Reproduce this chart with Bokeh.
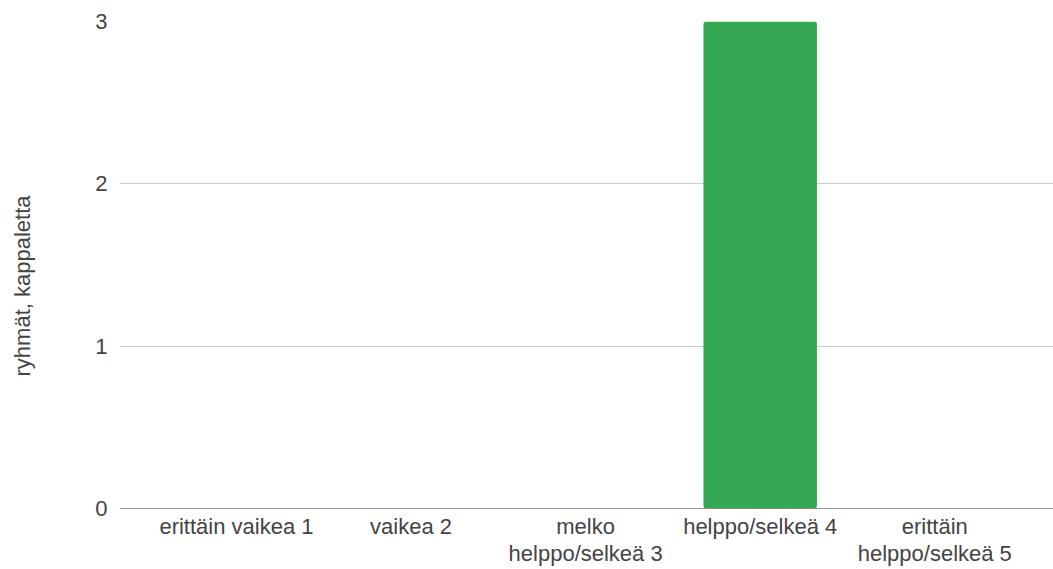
from math import pi
from bokeh.plotting import figure
from bokeh.layouts import row
from bokeh.models import ColumnDataSource, FixedTicker, Range1d, Span
from bokeh.core.properties import value
from bokeh.embed import file_html
from bokeh.resources import INLINE

categories = ["erittäin vaikea 1", "vaikea 2", "melko\nhelppo/selkeä 3",
              "helppo/selkeä 4", "erittäin\nhelppo/selkeä 5"]
values = [0, 0, 0, 3, 0]
y_ticks = [0, 1, 2, 3]
y_label = "ryhmät, kappaletta"

positions = list(range(1, len(categories) + 1))
src = ColumnDataSource(dict(x=positions, top=values))

FONT = "Liberation Sans"
TXT = "#444444"
W, H = 1053, 569
LW = 40  # width of the side strip holding the y-axis title

# side strip with the rotated y-axis title
side = figure(width=LW, height=H, output_backend="svg", toolbar_location=None,
              x_range=Range1d(0, LW), y_range=Range1d(0, H),
              min_border=0, x_axis_type=None, y_axis_type=None)
side.outline_line_color = None
side.grid.visible = False
side.text(x=[22], y=[H - 309], text=[y_label], angle=pi / 2,
          text_align="center", text_baseline="middle",
          text_font=value(FONT), text_font_size="22px", text_color=TXT)

p = figure(width=W - LW, height=H, output_backend="svg", toolbar_location=None,
           x_range=Range1d(0.33, 5.68), y_range=Range1d(0, 3),
           min_border_left=119 - LW, min_border_right=0, min_border_top=21,
           min_border_bottom=61)
p.outline_line_color = None
p.background_fill_color = "white"
p.border_fill_color = "white"

p.vbar(x="x", top="top", width=0.65, source=src, color="#34A853",
       line_color=None, border_radius=3)

p.xgrid.visible = False
p.ygrid.grid_line_color = "#cccccc"
p.ygrid.ticker = FixedTicker(ticks=y_ticks)

p.add_layout(Span(location=0, dimension="width", line_color="#333333", line_width=1.2))

for ax in (p.xaxis[0], p.yaxis[0]):
    ax.axis_line_color = None
    ax.major_tick_line_color = None
    ax.minor_tick_line_color = None
    ax.major_tick_out = 0
    ax.major_tick_in = 0
    ax.minor_tick_out = 0
    ax.minor_tick_in = 0
    ax.major_label_text_font = FONT
    ax.major_label_text_font_size = "22px"
    ax.major_label_text_color = TXT

p.yaxis.ticker = FixedTicker(ticks=y_ticks)
p.yaxis.major_label_standoff = 12

p.xaxis.ticker = FixedTicker(ticks=positions)
p.xaxis.major_label_overrides = {pos: lab for pos, lab in zip(positions, categories)}
p.xaxis.major_label_standoff = 5
p.xaxis.major_label_text_line_height = 1.1

layout = row(side, p, spacing=0)
open("out.html", "w").write(file_html(layout, INLINE))
